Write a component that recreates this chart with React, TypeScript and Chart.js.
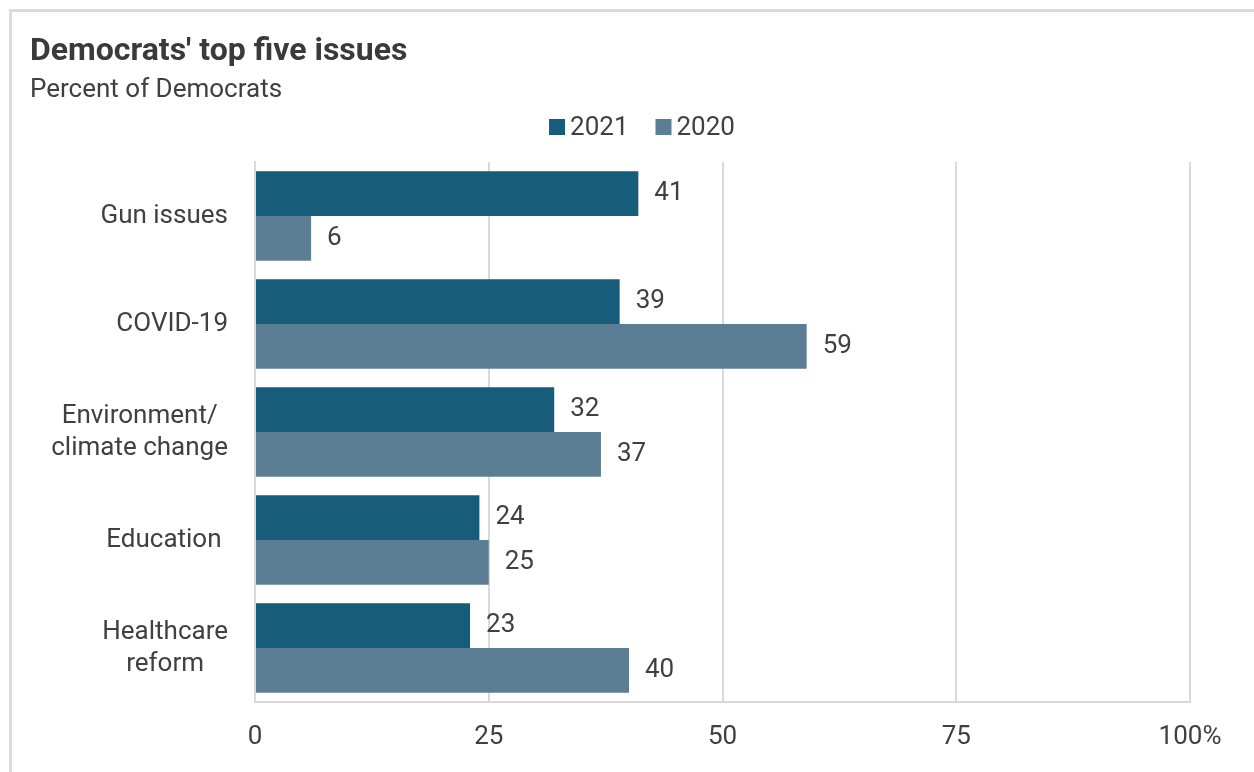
import React, { useEffect, useRef } from "react";
import { Chart, registerables } from "chart.js";

Chart.register(...registerables);

const categories: string[][] = [
  ["Gun issues"],
  ["COVID-19"],
  ["Environment/", "climate change"],
  ["Education "],
  ["Healthcare", "reform"],
];
const seriesNames = ["2021", "2020"];
const values2021 = [41, 39, 32, 24, 23];
const values2020 = [6, 59, 37, 25, 40];
const xTickValues = [0, 25, 50, 75, 100];
const xTickLabels = ["0", "25", "50", "75", "100%"];
const seriesColors = ["#175C7A", "#5B7E95"];

const TEXT = "#404040";
const GRID = "#d9d9d9";
const FONT = "Roboto, 'Noto Sans', sans-serif";
const FS = 26;

const categoryLabelPlugin = {
  id: "categoryLabels",
  afterDraw(chart: any) {
    const { ctx, chartArea } = chart;
    const y = chart.scales.y;
    ctx.save();
    ctx.font = `${FS}px ${FONT}`;
    ctx.fillStyle = TEXT;
    ctx.textAlign = "center";
    ctx.textBaseline = "middle";
    (chart.data.labels as string[][]).forEach((lines, i) => {
      const arr = Array.isArray(lines) ? lines : [lines];
      const maxW = Math.max(...arr.map((l) => ctx.measureText(l).width));
      const cx = chartArea.left - 27 - maxW / 2;
      const cy = y.getPixelForValue(i);
      const lh = 32;
      arr.forEach((l, j) => {
        ctx.fillText(l, cx, cy + (j - (arr.length - 1) / 2) * lh);
      });
    });
    ctx.restore();
  },
};

const valueLabelPlugin = {
  id: "valueLabels",
  afterDatasetsDraw(chart: any) {
    const { ctx } = chart;
    ctx.save();
    ctx.font = `${FS}px ${FONT}`;
    ctx.fillStyle = TEXT;
    ctx.textAlign = "left";
    ctx.textBaseline = "middle";
    chart.data.datasets.forEach((ds: any, di: number) => {
      const meta = chart.getDatasetMeta(di);
      meta.data.forEach((bar: any, i: number) => {
        ctx.fillText(String(ds.data[i]), bar.x + 16, bar.y);
      });
    });
    ctx.restore();
  },
};

const legendPlugin = {
  id: "customLegend",
  afterDraw(chart: any) {
    const { ctx } = chart;
    ctx.save();
    ctx.font = `${FS}px ${FONT}`;
    ctx.textBaseline = "middle";
    ctx.textAlign = "left";
    const box = 16;
    const gap = 5;
    const itemGap = 27;
    const items = chart.data.datasets.map((ds: any) => ({
      text: ds.label,
      color: ds.backgroundColor,
      w: ctx.measureText(ds.label).width,
    }));
    const total =
      items.reduce((s: number, it: any) => s + box + gap + it.w, 0) +
      itemGap * (items.length - 1);
    let x = chart.width / 2 + 9 - total / 2;
    const cy = 115;
    items.forEach((it: any) => {
      ctx.fillStyle = it.color;
      ctx.fillRect(x, cy - box / 2, box, box);
      ctx.fillStyle = TEXT;
      ctx.fillText(it.text, x + box + gap, cy + 1);
      x += box + gap + it.w + itemGap;
    });
    ctx.restore();
  },
};

export default function App() {
  const ref = useRef<HTMLCanvasElement | null>(null);

  useEffect(() => {
    if (!ref.current) return;
    const chart = new Chart(ref.current, {
      type: "bar",
      data: {
        labels: categories as any,
        datasets: [
          {
            label: seriesNames[0],
            data: values2021,
            backgroundColor: seriesColors[0],
            categoryPercentage: 0.83,
            barPercentage: 1,
          },
          {
            label: seriesNames[1],
            data: values2020,
            backgroundColor: seriesColors[1],
            categoryPercentage: 0.83,
            barPercentage: 1,
          },
        ],
      },
      options: {
        indexAxis: "y",
        responsive: false,
        animation: false,
        layout: { padding: { left: 18, right: 64, top: 0, bottom: 0 } },
        plugins: {
          legend: { display: false },
          tooltip: { enabled: false },
          title: {
            display: true,
            text: "Democrats' top five issues",
            align: "start",
            color: "#3a3a3a",
            font: { family: FONT, size: 32, weight: "bold" },
            padding: { top: 20.4, bottom: 0 },
          },
          subtitle: {
            display: true,
            text: "Percent of Democrats",
            align: "start",
            color: TEXT,
            font: { family: FONT, size: FS },
            padding: { top: 3.7, bottom: 56.3 },
          },
        },
        scales: {
          x: {
            type: "linear",
            min: 0,
            max: 100,
            afterBuildTicks: (axis: any) => {
              axis.ticks = xTickValues.map((v) => ({ value: v }));
            },
            afterFit: (axis: any) => {
              axis.height = 70;
            },
            ticks: {
              color: TEXT,
              font: { family: FONT, size: FS },
              padding: 19.5,
              maxRotation: 0,
              callback: (v: any) => {
                const idx = xTickValues.indexOf(Number(v));
                return idx >= 0 ? xTickLabels[idx] : String(v);
              },
            },
            grid: { color: GRID, lineWidth: 2, drawTicks: false },
            border: { display: true, color: GRID, width: 2 },
          },
          y: {
            type: "category",
            offset: true,
            afterFit: (axis: any) => {
              axis.width = 225;
            },
            ticks: { display: false },
            grid: { display: false, drawTicks: false },
            border: { display: true, color: GRID, width: 2 },
          },
        },
      },
      plugins: [categoryLabelPlugin, valueLabelPlugin, legendPlugin],
    } as any);
    return () => chart.destroy();
  }, []);

  return (
    <div
      style={{
        position: "fixed",
        left: 9,
        top: 9,
        width: 1270,
        height: 790,
        borderTop: "3px solid #dadada",
        borderLeft: "3px solid #dadada",
        background: "#fff",
      }}
    >
      <canvas ref={ref} width={1242} height={760} style={{ display: "block" }} />
    </div>
  );
}
